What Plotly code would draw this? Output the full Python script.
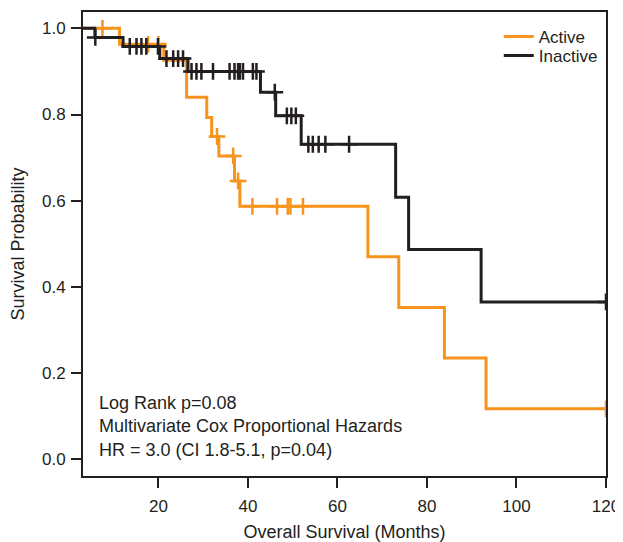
import plotly.graph_objects as go

# ---- data ----
active_times = [0, 11.3, 21.2, 26.3, 30.8, 31.9, 33.5, 37.0, 38.2, 66.8, 73.7, 83.9, 93.2, 120]
active_surv = [1.0, 0.963, 0.926, 0.840, 0.793, 0.749, 0.704, 0.646, 0.587, 0.470, 0.352, 0.235, 0.117, 0.117]
active_censor = [7.5, 17.7, 20.0, 33.1, 36.7, 37.8, 41.0, 46.5, 48.9, 49.5, 52.3, 120]

inactive_times = [0, 5.8, 12.1, 20.3, 26.6, 42.8, 46.2, 51.9, 73.0, 75.9, 92.1, 120]
inactive_surv = [1.0, 0.979, 0.958, 0.930, 0.900, 0.852, 0.797, 0.731, 0.608, 0.487, 0.365, 0.365]
inactive_censor = [5.9, 13.6, 15.1, 16.2, 17.3, 19.9, 21.8, 23.3, 24.4, 25.5,
                   27.4, 28.5, 29.6, 32.2, 35.9, 37.0, 37.8, 38.2, 38.9, 41.1, 41.9,
                   46.0, 48.7, 49.7, 50.7, 53.5, 54.5, 55.8, 57.3, 62.6, 120]

x_ticks = [20, 40, 60, 80, 100, 120]
y_ticks = [0.0, 0.2, 0.4, 0.6, 0.8, 1.0]
y_tick_labels = ["0.0", "0.2", "0.4", "0.6", "0.8", "1.0"]

ORANGE = "#F7941D"
BLACK = "#231F20"
FONT = "Arial, Liberation Sans, sans-serif"


def surv_at(t, times, surv):
    s = surv[0]
    for ti, si in zip(times, surv):
        if ti <= t:
            s = si
        else:
            break
    return s


fig = go.Figure()
for name, times, surv, cens, col, lg in [
    ("Active", active_times, active_surv, active_censor, ORANGE, "legend"),
    ("Inactive", inactive_times, inactive_surv, inactive_censor, BLACK, "legend2"),
]:
    fig.add_trace(go.Scatter(x=times, y=surv, mode="lines", name=name, legend=lg,
                             line=dict(color=col, width=3, shape="hv")))
    fig.add_trace(go.Scatter(x=cens, y=[surv_at(c, times, surv) for c in cens],
                             mode="markers", showlegend=False, hoverinfo="skip",
                             marker=dict(symbol="cross-thin", size=12,
                                         line=dict(color=col, width=2.5))))

fig.add_annotation(
    text="Log Rank p=0.08<br>Multivariate Cox Proportional Hazards<br>HR = 3.0 (CI 1.8-5.1, p=0.04)",
    xref="paper", yref="paper", x=0.027, y=0.184, xanchor="left", yanchor="top",
    align="left", showarrow=False, font=dict(family=FONT, size=18, color=BLACK))

axis_common = dict(showline=True, mirror=True, linecolor=BLACK, linewidth=2,
                   ticks="outside", ticklen=10, tickwidth=2, tickcolor=BLACK,
                   showgrid=False, zeroline=False, automargin=False,
                   tickfont=dict(family=FONT, size=17, color=BLACK))

leg_common = dict(xanchor="left", yanchor="middle", bgcolor="rgba(0,0,0,0)",
                  font=dict(family=FONT, size=17, color=BLACK), itemwidth=30,
                  borderwidth=0)

# the page body adds an 8px offset; the figure is sized to compensate
fig.update_layout(
    width=615, height=534,
    margin=dict(l=75, r=17, t=4, b=66),
    plot_bgcolor="white", paper_bgcolor="white",
    font=dict(family=FONT, size=17, color=BLACK),
    xaxis=dict(range=[3.15, 120], tickvals=x_ticks, ticklabelstandoff=4,
               title=dict(text="Overall Survival (Months)", standoff=16,
                          font=dict(family=FONT, size=18, color=BLACK)),
               **axis_common),
    yaxis=dict(range=[-0.039, 1.038], tickvals=y_ticks, ticktext=y_tick_labels,
               ticklabelstandoff=2,
               title=dict(text="Survival Probability", standoff=15,
                          font=dict(family=FONT, size=18, color=BLACK)),
               **axis_common),
    legend=dict(x=0.795, y=(476 - 37) / 464, **leg_common),
    legend2=dict(x=0.795, y=(476 - 56) / 464, **leg_common),
    showlegend=True,
)

fig.write_html("out.html")
